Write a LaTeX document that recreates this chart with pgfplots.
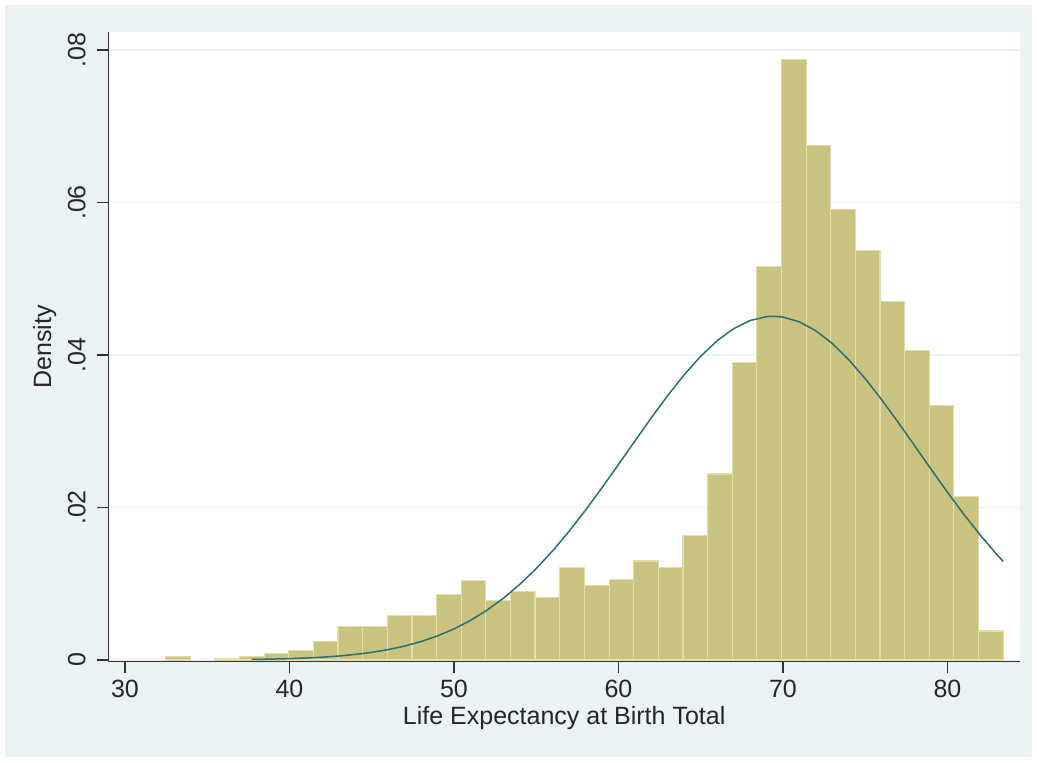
\documentclass[border=0pt]{standalone}
\usepackage{fontspec}
\setmainfont{Liberation Sans}
\usepackage{pgfplots}
\pgfplotsset{compat=1.18}
\definecolor{bgblue}{RGB}{234,242,243}
\definecolor{barfill}{RGB}{202,195,128}
\definecolor{baredge}{RGB}{226,222,172}
\definecolor{curvecol}{RGB}{42,112,112}
\definecolor{axisgray}{RGB}{50,50,50}
\begin{document}
\begin{tikzpicture}
\fill[white] (-54.15pt,-50.15pt) rectangle (464.35pt,330.85pt);
\fill[bgblue] (-51.65pt,-47.65pt) rectangle (461.85pt,328.35pt);
\begin{axis}[
  at={(0pt,0pt)}, anchor=south west,
  scale only axis, width=455.85pt, height=314.7pt,
  xmin=28.985, xmax=84.41, ymin=-0.00022, ymax=0.08232,
  axis x line=bottom, axis y line=left,
  axis line style={axisgray, line width=0.75pt, -},
  axis background/.style={fill=white},
  tick align=outside, major tick length=5.5pt,
  tick style={axisgray, line width=0.75pt},
  xtick={30,40,50,60,70,80}, xticklabels={30,40,50,60,70,80},
  ytick={0,0.02,0.04,0.06,0.08}, yticklabels={0,.02,.04,.06,.08},
  scaled y ticks=false, scaled x ticks=false,
  ymajorgrids, grid style={bgblue, line width=0.8pt},
  every tick label/.append style={font=\fontsize{12.5}{15}\selectfont, text=black!85},
  yticklabel style={rotate=90, anchor=south, inner sep=5.6pt},
  xlabel={Life Expectancy at Birth Total},
  ylabel={Density},
  label style={font=\fontsize{12.5}{15}\selectfont, text=black!85},
  xlabel style={at={(axis description cs:0.5,-0.0709)}, anchor=north, inner sep=0pt},
  ylabel style={at={(axis description cs:-0.0566,0.5)}, anchor=south, inner sep=0pt},
]
\addplot[ybar interval, fill=barfill, draw=baredge, line width=0.6pt] table {
x y
32.47 0.00045
33.97 0
};
\addplot[ybar interval, fill=barfill, draw=baredge, line width=0.6pt] table {
x y
35.47 0.00015
36.96 0.00043
38.46 0.00083
39.96 0.00122
41.46 0.0024
42.95 0.00442
44.45 0.00442
45.95 0.00582
47.45 0.00582
48.94 0.00863
50.44 0.01047
51.94 0.00779
53.44 0.0090
54.93 0.00816
56.43 0.01215
57.93 0.00974
59.43 0.01057
60.92 0.01298
62.42 0.01215
63.92 0.0163
65.42 0.0244
66.91 0.0390
68.41 0.0516
69.91 0.0788
71.41 0.0675
72.91 0.0591
74.40 0.0537
75.90 0.0470
77.40 0.0406
78.90 0.0334
80.39 0.0214
81.89 0.0038
83.39 0
};
\addplot[curvecol, line width=0.75pt] coordinates {
(37.7,0.0000738) (39,0.0001235) (40,0.000181) (41,0.000262) (42,0.000374)
(43,0.000527) (44,0.000733) (45,0.001008) (46,0.001368) (47,0.001832)
(48,0.002423) (49,0.003163) (50,0.004078) (51,0.005193) (52,0.006524)
(53,0.008098) (54,0.009920) (55,0.011997) (56,0.014328) (57,0.016893)
(58,0.019664) (59,0.022601) (60,0.025645) (61,0.028731) (62,0.031780)
(63,0.034708) (64,0.037423) (65,0.039839) (66,0.041873) (67,0.043453)
(68,0.044520) (69,0.045034) (69.4,0.04508) (70,0.044976) (71,0.044349)
(72,0.043176) (73,0.041501) (74,0.039384) (75,0.036900) (76,0.034136)
(77,0.031179) (78,0.028115) (79,0.025030) (80,0.022003) (81,0.019095)
(82,0.016361) (83,0.013842) (83.39,0.012924)
};
\end{axis}
\end{tikzpicture}
\end{document}
